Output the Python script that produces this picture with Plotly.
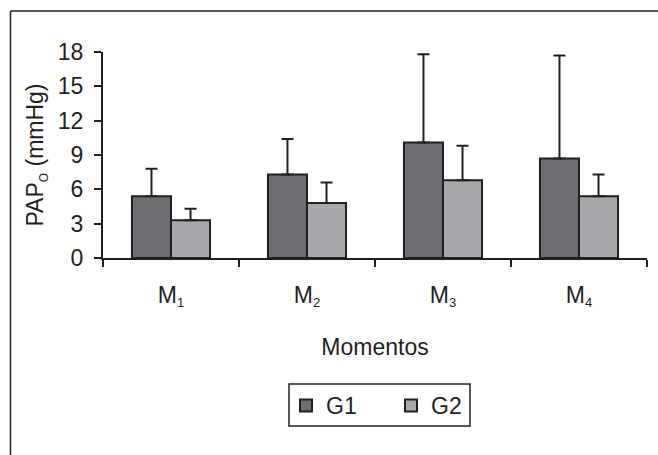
import plotly.graph_objects as go

categories = ["M1", "M2", "M3", "M4"]
tick_labels = ["M<sub><span style='font-size:13px'>%d</span></sub>" % i for i in range(1, 5)]
g1_mean = [5.4, 7.3, 10.1, 8.7]
g1_sd = [2.4, 3.1, 7.7, 9.0]
g2_mean = [3.3, 4.8, 6.8, 5.4]
g2_sd = [1.0, 1.8, 3.0, 1.9]

ink = "#231f20"
fam = "Liberation Sans"
fnt = dict(family=fam, size=23, color=ink)

fig = go.Figure()
fig.add_trace(go.Bar(
    name="G1", x=categories, y=g1_mean,
    marker=dict(color="#6d6e71", line=dict(color=ink, width=2)),
    error_y=dict(type="data", array=g1_sd, arrayminus=[0]*4, symmetric=False,
                 color=ink, thickness=2, width=6),
))
fig.add_trace(go.Bar(
    name="G2", x=categories, y=g2_mean,
    marker=dict(color="#a7a9ac", line=dict(color=ink, width=2)),
    error_y=dict(type="data", array=g2_sd, arrayminus=[0]*4, symmetric=False,
                 color=ink, thickness=2, width=6),
))

L, R, T, B = 103, 11, 52, 197
W, H = 658, 455
pw, ph = W - L - R, H - T - B

def px(x):
    return (x - L) / pw

def py(y):
    return (H - B - y) / ph

fig.update_layout(
    width=W, height=H,
    margin=dict(l=L, r=R, t=T, b=B),
    paper_bgcolor="white", plot_bgcolor="white",
    font=fnt,
    barmode="group", bargap=0.426, bargroupgap=0,
    showlegend=True,
    legend=dict(orientation="h", x=px(286), y=py(384), xanchor="left", yanchor="top",
                borderwidth=0, entrywidth=60, bgcolor="rgba(0,0,0,0)",
                font=fnt, itemclick=False, itemwidth=30),
    xaxis=dict(
        tickmode="array", tickvals=categories, ticktext=tick_labels,
        tickson="boundaries", ticks="outside", ticklen=7, tickwidth=2, tickcolor=ink,
        showline=True, linecolor=ink, linewidth=2, showgrid=False,
        range=[-0.5, 3.5],
        tickfont=fnt,
        title=dict(text="Momentos", standoff=29, font=fnt),
        ticklabelstandoff=15,
    ),
    yaxis=dict(
        range=[0, 18], tickmode="array", tickvals=[0, 3, 6, 9, 12, 15, 18],
        ticks="outside", ticklen=7, tickwidth=2, tickcolor=ink,
        showline=True, linecolor=ink, linewidth=2, showgrid=False, zeroline=False,
        tickfont=fnt, ticklabelstandoff=6,
        title=dict(text="PAP<sub><span style='font-size:12px'>O</span></sub> (mmHg)",
                   standoff=8, font=fnt),
    ),
    shapes=[
        dict(type="line", xref="paper", yref="paper", x0=px(10.5), x1=px(658),
             y0=py(11), y1=py(11), line=dict(color=ink, width=1.5)),
        dict(type="line", xref="paper", yref="paper", x0=px(10.5), x1=px(10.5),
             y0=py(11), y1=py(455), line=dict(color=ink, width=1.5)),
        dict(type="rect", xref="paper", yref="paper", x0=px(289), x1=px(470),
             y0=py(384), y1=py(426), line=dict(color=ink, width=1.5)),
    ],
)

fig.write_html("out.html")
